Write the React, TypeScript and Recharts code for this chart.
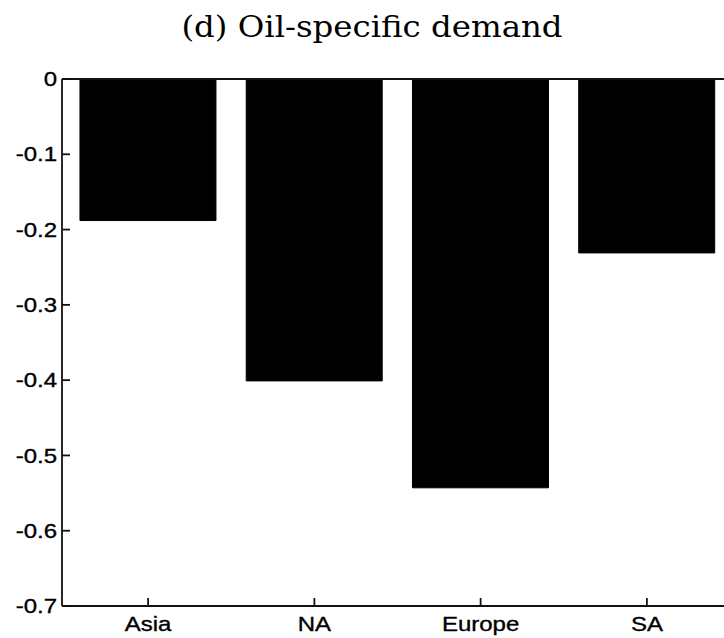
import React from "react";
import { BarChart, Bar, XAxis, YAxis, ReferenceLine } from "recharts";

const categories = ["Asia", "NA", "Europe", "SA"];
const values = [-0.188, -0.401, -0.543, -0.231];
const yTicks = [0, -0.1, -0.2, -0.3, -0.4, -0.5, -0.6, -0.7];

const data = categories.map((name, i) => ({ name, value: values[i] }));

const fmt = (v: number) => (v === 0 ? "0" : "-" + Math.abs(v).toFixed(1));

const FONT = "Liberation Sans, Arial, sans-serif";
const SX = 1.2;

const YTick = (props: any) => {
  const { x, y, payload } = props;
  return (
    <g transform={`translate(${x},${y})`}>
      <text
        transform={`scale(${SX},1)`}
        textAnchor="end"
        dy="0.355em"
        fontFamily={FONT}
        fontSize={20}
        fill="#000"
        stroke="#000"
        strokeWidth={0.35}
      >
        {fmt(payload.value)}
      </text>
    </g>
  );
};

const XTick = (props: any) => {
  const { x, y, payload } = props;
  return (
    <g transform={`translate(${x},${y})`}>
      <text
        transform={`scale(${SX},1)`}
        textAnchor="middle"
        dy="0.71em"
        fontFamily={FONT}
        fontSize={20}
        fill="#000"
        stroke="#000"
        strokeWidth={0.35}
      >
        {payload.value}
      </text>
    </g>
  );
};

export default function App() {
  return (
    <div style={{ position: "fixed", left: 0, top: 0, width: 724, height: 638, overflow: "hidden", background: "#fff" }}>
      <div
        style={{
          position: "absolute",
          left: 372,
          top: 9,
          transform: "translateX(-50%) scaleX(1.08)",
          fontFamily: "DejaVu Serif, serif",
          fontSize: 30,
          color: "#000",
          whiteSpace: "nowrap",
        }}
      >
        (d) Oil-specific demand
      </div>
      <div style={{ position: "absolute", left: 0, top: 0 }}>
        <BarChart
          width={740}
          height={638}
          data={data}
          margin={{ top: 79, right: 10, bottom: 2, left: 0 }}
          barCategoryGap="9%"
        >
          <XAxis
            dataKey="name"
            type="category"
            height={30}
            padding={{ left: 3, right: 0 }}
            tickSize={-8}
            tickMargin={19}
            tick={<XTick />}
            axisLine={{ stroke: "#111", strokeWidth: 1.8 }}
            tickLine={{ stroke: "#111", strokeWidth: 1.8 }}
            interval={0}
          />
          <YAxis
            type="number"
            domain={[-0.7, 0]}
            ticks={yTicks}
            width={62}
            tickSize={-8}
            tickMargin={13}
            tick={<YTick />}
            axisLine={{ stroke: "#111", strokeWidth: 1.8 }}
            tickLine={{ stroke: "#111", strokeWidth: 1.8 }}
            allowDataOverflow
          />
          <Bar dataKey="value" fill="#000" stroke="#000" strokeWidth={1} isAnimationActive={false} />
          <ReferenceLine y={0} stroke="#111" strokeWidth={1.8} />
        </BarChart>
      </div>
    </div>
  );
}
